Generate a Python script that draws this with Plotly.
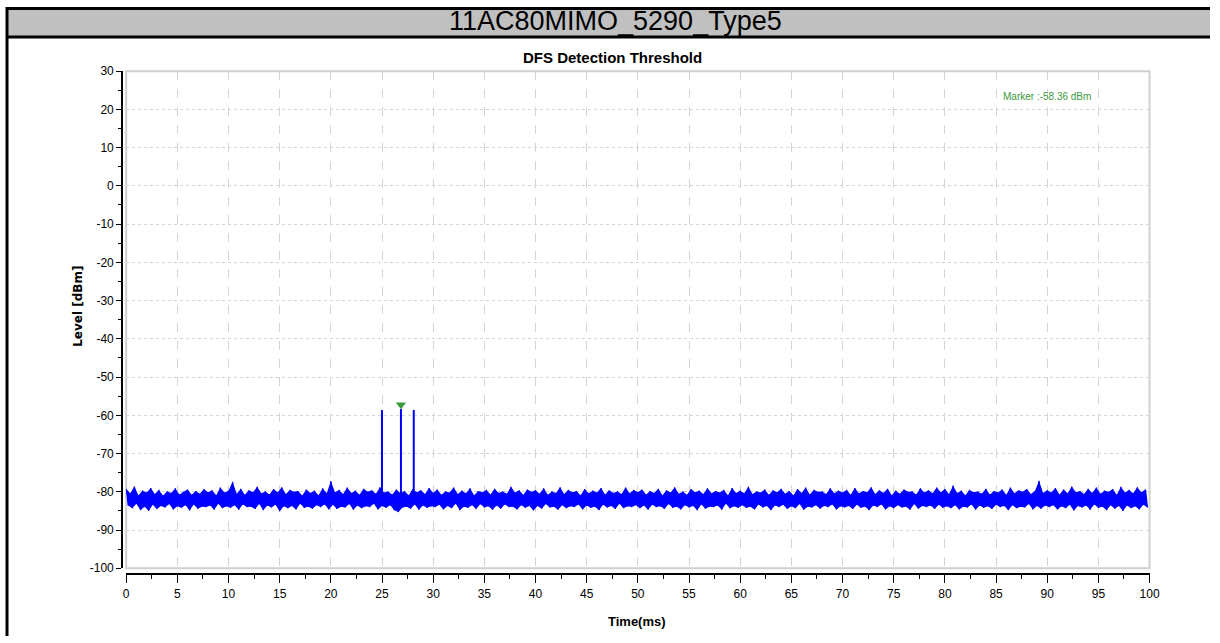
import plotly.graph_objects as go

# ---------------- data ----------------
header_title = "11AC80MIMO_5290_Type5"
chart_title = "DFS Detection Threshold"
x_title = "Time(ms)"
y_title = "Level [dBm]"

x_tick_vals = [0, 5, 10, 15, 20, 25, 30, 35, 40, 45, 50, 55, 60, 65, 70, 75, 80, 85, 90, 95, 100]
x_tick_text = ["0", "5", "10", "15", "20", "25", "30", "35", "40", "45", "50",
               "55", "60", "65", "70", "75", "80", "85", "90", "95", "100"]
y_tick_vals = [30, 20, 10, 0, -10, -20, -30, -40, -50, -60, -70, -80, -90, -100]
y_tick_text = ["30", "20", "10", "0", "-10", "-20", "-30", "-40", "-50", "-60",
               "-70", "-80", "-90", "-100"]

# sweep sampling: each bin (0.4 ms) holds a local max and a local min reading
bin_ms = 0.4
noise_hi = [
    -79.2, -80.4, -78.6, -80.9, -79.7, -80.2, -79.0, -80.6, -79.5, -81.0, -79.9, -80.3, -79.1, -80.7, -80.0, -79.4, -80.8, -79.8, -80.5, -79.3, -80.1, -79.6, -80.9, -78.9, -80.2,
    -79.7, -77.4, -80.5, -79.2, -80.8, -79.6, -80.1, -78.7, -80.4, -79.9, -80.7, -79.3, -80.2, -78.8, -80.6, -79.5, -80.0, -79.8, -81.0, -79.4, -80.3, -79.7, -80.9, -79.1, -80.4,
    -77.2, -80.1, -79.5, -80.6, -78.9, -80.3, -79.7, -80.8, -79.2, -80.0, -79.6, -80.5, -78.8, -80.2, -79.9, -80.7, -79.4, -80.4, -79.8, -80.9, -79.3, -80.1, -79.6, -80.6, -79.0,
    -80.3, -79.4, -80.8, -79.9, -80.2, -78.9, -80.6, -79.7, -80.4, -79.1, -80.9, -79.8, -80.1, -79.5, -80.7, -79.2, -80.3, -79.9, -80.5, -78.7, -80.2, -79.6, -80.8, -79.4, -80.0,
    -79.6, -80.5, -79.1, -80.8, -79.9, -80.3, -78.8, -80.6, -79.5, -80.1, -79.8, -80.9, -79.3, -80.4, -79.7, -80.2, -79.0, -80.7, -79.6, -80.3, -79.9, -80.6, -78.9, -80.4, -79.5,
    -80.1, -79.4, -80.7, -79.8, -80.3, -79.2, -80.9, -79.6, -80.2, -78.8, -80.5, -79.9, -80.8, -79.3, -80.1, -79.7, -80.6, -79.1, -80.4, -79.8, -80.2, -79.5, -80.9, -79.0, -80.3,
    -79.7, -80.4, -78.7, -80.6, -79.9, -80.2, -79.4, -80.8, -79.6, -80.1, -79.2, -80.5, -79.8, -80.9, -79.3, -80.3, -78.9, -80.7, -79.5, -80.0, -79.9, -80.6, -79.1, -80.4, -79.7,
    -80.2, -79.5, -80.8, -79.0, -80.4, -79.8, -80.1, -78.8, -80.6, -79.6, -80.3, -79.2, -80.9, -79.7, -80.5, -79.4, -80.0, -79.9, -80.7, -79.1, -80.2, -79.6, -80.4, -78.9, -80.1,
    -79.3, -80.6, -78.4, -80.3, -79.7, -80.9, -79.5, -80.1, -79.9, -80.5, -79.2, -80.7, -79.8, -80.2, -79.4, -80.8, -78.9, -80.4, -79.6, -80.0, -79.3, -80.6, -79.8, -77.1, -80.3,
    -79.6, -80.2, -79.0, -80.7, -79.4, -80.4, -78.6, -80.1, -79.8, -80.6, -79.2, -80.3, -78.9, -80.5, -79.7, -80.0, -79.3, -80.8, -78.7, -80.2, -79.5, -80.4, -78.8, -80.1, -79.4,
]
noise_lo = [
    -83.6, -84.3, -83.1, -84.8, -83.9, -85.0, -83.4, -84.5, -83.7, -84.1, -83.2, -84.6, -83.8, -84.2, -83.5, -84.9, -83.3, -84.4, -83.9, -84.0, -83.6, -84.7, -83.1, -84.3, -83.8,
    -84.2, -83.5, -84.7, -83.3, -84.0, -83.9, -84.5, -83.2, -84.8, -83.6, -84.1, -83.4, -85.1, -83.8, -84.3, -83.7, -84.6, -83.1, -84.2, -83.9, -84.4, -83.5, -84.0, -83.3, -84.6,
    -83.4, -84.5, -83.9, -84.1, -83.2, -84.7, -83.6, -84.3, -83.8, -84.0, -83.1, -84.6, -83.7, -84.2, -83.5, -84.8, -85.3, -84.1, -83.9, -84.4, -83.3, -84.7, -83.6, -84.2, -83.8,
    -84.0, -83.4, -84.6, -83.7, -84.3, -83.1, -84.8, -83.9, -84.2, -83.5, -84.5, -83.2, -84.1, -83.8, -84.7, -83.6, -84.4, -83.3, -84.0, -83.9, -84.6, -83.5, -84.2, -83.7, -84.9,
    -83.7, -84.4, -83.2, -84.1, -83.9, -84.7, -83.5, -84.3, -83.8, -84.0, -83.3, -84.6, -83.6, -84.2, -83.9, -84.8, -83.4, -84.1, -83.7, -84.5, -83.1, -84.3, -83.8, -84.0, -83.5,
    -84.3, -83.6, -84.7, -83.4, -84.0, -83.8, -84.5, -83.2, -84.2, -83.9, -84.6, -83.5, -84.1, -83.7, -84.8, -83.3, -84.4, -83.9, -84.0, -83.6, -84.7, -83.1, -84.3, -83.8, -84.2,
    -83.5, -84.2, -83.9, -84.6, -83.3, -84.1, -83.7, -84.8, -83.6, -84.0, -83.4, -84.5, -83.8, -84.3, -83.2, -84.7, -83.9, -84.1, -83.5, -84.4, -83.7, -84.0, -83.3, -84.6, -83.8,
    -84.1, -83.7, -84.5, -83.4, -84.2, -83.9, -84.8, -83.6, -84.0, -83.3, -84.6, -83.8, -84.3, -83.5, -84.1, -83.9, -84.7, -83.2, -84.4, -83.7, -84.0, -83.6, -84.5, -83.4, -84.2,
    -83.8, -84.3, -83.5, -84.6, -83.9, -84.1, -83.3, -84.7, -83.6, -84.2, -83.8, -84.5, -83.4, -84.0, -83.7, -84.8, -83.5, -84.3, -83.9, -84.1, -83.2, -84.6, -83.7, -84.4, -83.6,
    -84.0, -83.5, -84.6, -83.8, -84.3, -83.4, -84.9, -83.7, -84.1, -83.6, -84.7, -83.3, -84.2, -83.9, -84.8, -83.5, -84.4, -83.7, -85.0, -83.6, -84.3, -83.8, -84.6, -83.4, -84.1,
]

# radar pulses
pulse_times = [25.0, 26.85, 28.1]
pulse_peaks = [-58.6, -58.36, -58.6]
pulse_base = -82.0

marker_time = 26.85
marker_level = -58.36
marker_text = "Marker :-58.36 dBm"

# ---------------- build traces ----------------
hi_x = [i * bin_ms for i in range(len(noise_hi))]
lo_x = [i * bin_ms + bin_ms / 2 for i in range(len(noise_lo))]
trace_x, trace_y = [], []
for xh, hi, xl, lo in zip(hi_x, noise_hi, lo_x, noise_lo):
    trace_x += [xh, xl]
    trace_y += [hi, lo]

pulse_x, pulse_y = [], []
for t, p in zip(pulse_times, pulse_peaks):
    pulse_x += [t, t, None]
    pulse_y += [pulse_base, p, None]

BLUE = "#0000FF"
GREEN = "#3C9A3C"
SANS = "Liberation Sans, Arial, sans-serif"

fig = go.Figure()
# envelope fill (solid core of the noise band)
fig.add_trace(go.Scatter(x=hi_x, y=noise_hi, mode="lines",
                         line=dict(color=BLUE, width=0), hoverinfo="skip"))
fig.add_trace(go.Scatter(x=lo_x, y=noise_lo, mode="lines", fill="tonexty",
                         fillcolor=BLUE, line=dict(color=BLUE, width=0), hoverinfo="skip"))
# actual sweep trace
fig.add_trace(go.Scatter(x=trace_x, y=trace_y, mode="lines",
                         line=dict(color=BLUE, width=1.2), hoverinfo="skip"))
fig.add_trace(go.Scatter(x=pulse_x, y=pulse_y, mode="lines",
                         line=dict(color=BLUE, width=2), hoverinfo="skip"))
fig.add_trace(go.Scatter(x=[marker_time], y=[marker_level + 1.1], mode="markers",
                         marker=dict(symbol="triangle-down", size=9, color=GREEN),
                         hoverinfo="skip"))

W, H = 1220, 643


# layout helpers: target pixel position in the photographed picture -> paper fraction
def sx(x):
    return ((x - 3.0) / 0.988) / W


def sy(y):
    return 1 - ((y - 7.0) / 0.976) / H


fig.update_layout(
    width=W, height=H,
    margin=dict(l=0, r=0, t=0, b=0),
    paper_bgcolor="white", plot_bgcolor="white",
    showlegend=False,
    xaxis=dict(
        domain=[sx(126), sx(1148)], range=[0, 100], anchor="free", position=sy(573),
        tickmode="array", tickvals=x_tick_vals, ticktext=x_tick_text,
        ticks="outside", ticklen=8, tickwidth=1.2, tickcolor="black",
        showline=True, linecolor="black", linewidth=2,
        showgrid=True, gridcolor="#D4D4D4", griddash="dash", gridwidth=1,
        zeroline=False,
        minor=dict(tickmode="linear", tick0=0, dtick=2.5, ticks="outside",
                   ticklen=4, tickcolor="black", showgrid=False),
        tickfont=dict(family=SANS, size=12, color="black"),
    ),
    yaxis=dict(
        domain=[sy(567), sy(71)], range=[-100, 30], anchor="free", position=sx(122),
        tickmode="array", tickvals=y_tick_vals, ticktext=y_tick_text,
        ticks="outside", ticklen=5, tickwidth=1, tickcolor="black",
        showline=True, linecolor="black", linewidth=2,
        showgrid=True, gridcolor="#D4D4D4", griddash="dot", gridwidth=1,
        zeroline=False,
        minor=dict(tickmode="linear", tick0=-100, dtick=5, ticks="outside",
                   ticklen=3, tickcolor="black", showgrid=False),
        tickfont=dict(family=SANS, size=12, color="black"),
    ),
)

shapes = [
    dict(type="rect", xref="paper", yref="paper", x0=sx(7), x1=1, y0=sy(37), y1=1,
         fillcolor="#C0C0C0", line=dict(width=0), layer="below"),
    dict(type="line", xref="paper", yref="paper", x0=sx(6), x1=1, y0=1 - 1.5 / H, y1=1 - 1.5 / H,
         line=dict(color="black", width=3)),
    dict(type="line", xref="paper", yref="paper", x0=sx(6), x1=1, y0=sy(37), y1=sy(37),
         line=dict(color="black", width=3)),
    dict(type="line", xref="paper", yref="paper", x0=sx(7), x1=sx(7), y0=0, y1=1,
         line=dict(color="black", width=3)),
    dict(type="rect", xref="x domain", yref="y domain", x0=0, x1=1, y0=0, y1=1,
         line=dict(color="#D0D0D0", width=2), fillcolor="rgba(0,0,0,0)", layer="below"),
]
fig.update_layout(shapes=shapes)

annotations = [
    dict(text=header_title, xref="paper", yref="paper", x=sx(615), y=sy(21),
         showarrow=False, xanchor="center", yanchor="middle",
         font=dict(family=SANS, size=27, color="black")),
    dict(text="<b>" + chart_title + "</b>", xref="paper", yref="paper", x=sx(612), y=sy(57),
         showarrow=False, xanchor="center", yanchor="middle",
         font=dict(family=SANS, size=15, color="black")),
    dict(text="<b>" + x_title + "</b>", xref="paper", yref="paper", x=sx(636), y=sy(620),
         showarrow=False, xanchor="center", yanchor="middle",
         font=dict(family=SANS, size=13, color="black")),
    dict(text="<b>" + y_title + "</b>", xref="paper", yref="paper", x=sx(78), y=sy(306),
         showarrow=False, xanchor="center", yanchor="middle", textangle=-90,
         font=dict(family="DejaVu Sans, Verdana, sans-serif", size=12, color="black")),
    dict(text=marker_text, xref="paper", yref="paper", x=sx(1046), y=sy(96),
         showarrow=False, xanchor="center", yanchor="middle",
         font=dict(family=SANS, size=10, color=GREEN)),
]
fig.update_layout(annotations=annotations)

fig.write_html("out.html", config={"displayModeBar": False},
               post_script="document.body.style.margin='0';document.body.style.overflow='hidden';")
